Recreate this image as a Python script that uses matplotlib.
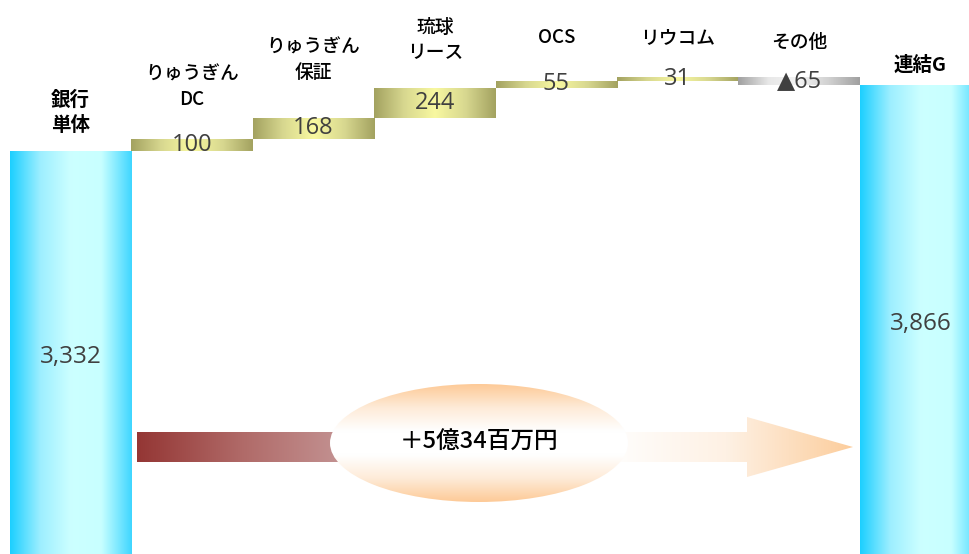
import numpy as np
import matplotlib
matplotlib.use('Agg')
from matplotlib import pyplot as plt
from matplotlib.colors import LinearSegmentedColormap
from matplotlib.patches import Rectangle, Polygon, Ellipse

plt.rcParams['font.family'] = ['Noto Sans CJK JP', 'DejaVu Sans']

# data
categories = ['銀行\n単体', 'りゅうぎん\nDC', 'りゅうぎん\n保証', '琉球\nリース',
              'OCS', 'リウコム', 'その他', '連結G']
values = [3332, 100, 168, 244, 55, 31, -65, 3866]
value_labels = ['3,332', '100', '168', '244', '55', '31', '▲65', '3,866']
total_label = '＋5億34百万円'

# layout (pixels above bar top for category labels)
label_dy = [38, 52, 58, 48, 43, 40, 35, 20]

blue = LinearSegmentedColormap.from_list('blue', ['#1ccfff', '#9eefff', '#ccffff', '#c8ffff', '#3fd6ff'])
olive = LinearSegmentedColormap.from_list('olive', ['#a3a260', '#d8d890', '#f8f8a0', '#d8d890', '#a3a260'])
grey = LinearSegmentedColormap.from_list('grey', ['#a0a0a0', '#e8e8e8', '#f4f4f4', '#d0d0d0', '#a0a0a0'])


def fill_gradient(ax, patch, cmap, extent, vertical=False):
    g = np.linspace(0, 1, 256)
    img = g.reshape(-1, 1) if vertical else g.reshape(1, -1)
    im = ax.imshow(img, extent=extent, cmap=cmap, aspect='auto', origin='lower',
                   zorder=patch.get_zorder(), interpolation='bicubic')
    im.set_clip_path(patch)
    patch.set_facecolor('none')


fig = plt.figure(figsize=(9.69, 5.54), dpi=100)
ax = fig.add_axes([0, 0, 1, 1])
ax.axis('off')

# waterfall bottoms / heights
bottoms, heights, tops = [], [], []
running = 0
for i, v in enumerate(values):
    if i == 0 or i == len(values) - 1:
        b, h = 0, v
        running = v
    elif v >= 0:
        b, h = running, v
        running += v
    else:
        b, h = running + v, -v
        running += v
    bottoms.append(b)
    heights.append(h)
    tops.append(b + h)

x = np.arange(len(values))
bars = ax.bar(x, heights, bottom=bottoms, width=1.0, linewidth=0, zorder=2)
for i, p in enumerate(bars.patches):
    x0, y0 = p.get_xy()
    ext = (x0, x0 + p.get_width(), y0, y0 + p.get_height())
    if i in (0, len(values) - 1):
        cm = blue
    elif values[i] < 0:
        cm = grey
    else:
        cm = olive
    fill_gradient(ax, p, cm, ext)

ax.set_xlim(-0.582, 7.40)
ax.set_ylim(71.5, 4553.7)

# category labels
for i, lab in enumerate(categories):
    bold = i in (0, len(values) - 1)
    ax.annotate(lab, (x[i], tops[i]), xytext=(0, label_dy[i]), textcoords='offset pixels',
                ha='center', va='center', fontsize=14 if bold else 13.5,
                fontweight='bold' if bold else 'medium', color='black',
                linespacing=1.4, zorder=5)

# value labels
for i, lab in enumerate(value_labels):
    ypos = bottoms[i] + heights[i] / 2
    fs = 17.5 if i in (0, len(values) - 1) else 17
    ax.text(x[i], ypos, lab, ha='center', va='center', fontsize=fs,
            color='#404040', family=['Open Sans', 'DejaVu Sans'], zorder=5)

# arrow overlay in pixel coordinates
ov = fig.add_axes([0, 0, 1, 1])
ov.axis('off')

red = LinearSegmentedColormap.from_list('red', ['#943634', '#b06a68', '#c49494'])
peach = LinearSegmentedColormap.from_list('peach', ['#ffffff', '#fef1e4', '#fccd9c'])
halo = LinearSegmentedColormap.from_list('halo', ['#fdca97', '#feebd8', '#ffffff', '#ffffff', '#feebd8', '#fdca97'])

rect = Rectangle((137, 432), 210, 30, zorder=3)
ov.add_patch(rect)
fill_gradient(ov, rect, red, (137, 347, 462, 432))

arrow = Polygon([(600, 432), (747, 432), (747, 417), (853, 447), (747, 477),
                 (747, 462), (600, 462)], closed=True, zorder=3, linewidth=0)
ov.add_patch(arrow)
fill_gradient(ov, arrow, peach, (600, 853, 477, 417))

ell = Ellipse((479, 443), 298, 118, zorder=4, linewidth=0)
ov.add_patch(ell)
fill_gradient(ov, ell, halo, (330, 628, 502, 384), vertical=True)

ov.text(479, 442, total_label, ha='center', va='center', fontsize=17,
        fontweight='medium', color='black', zorder=6)

ov.set_xlim(0, 969)
ov.set_ylim(554, 0)

fig.savefig('out.png', dpi=100)
